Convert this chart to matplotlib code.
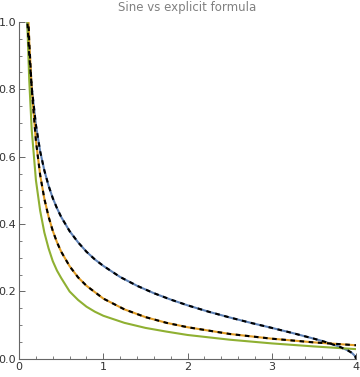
import matplotlib
matplotlib.use('Agg')
import matplotlib.pyplot as plt
from matplotlib.ticker import MultipleLocator

# values
x_blue = [0.09, 0.10, 0.12, 0.15, 0.20, 0.25, 0.30, 0.35, 0.40, 0.45, 0.50, 0.60, 0.70, 0.80, 0.90,
          1.00, 1.20, 1.40, 1.60, 1.80, 2.00, 2.25, 2.50, 2.75, 3.00, 3.25, 3.50,
          3.60, 3.70, 3.80, 3.85, 3.90, 3.95, 3.99, 4.00]
y_blue = [1.049, 0.994, 0.905, 0.806, 0.694, 0.616, 0.559, 0.514, 0.477, 0.447, 0.421, 0.379, 0.346,
          0.318, 0.295, 0.276, 0.243, 0.217, 0.195, 0.176, 0.159, 0.140, 0.123, 0.107, 0.092,
          0.0765, 0.060, 0.053, 0.045, 0.0365, 0.031, 0.0255, 0.018, 0.008, 0.0]

x_orange = [0.09, 0.10, 0.12, 0.15, 0.20, 0.25, 0.30, 0.35, 0.40, 0.45, 0.50, 0.60, 0.70, 0.80, 1.00,
            1.25, 1.50, 1.75, 2.00, 2.50, 3.00, 3.50, 4.00]
y_orange = [1.163, 1.080, 0.945, 0.801, 0.647, 0.546, 0.475, 0.422, 0.380, 0.346, 0.318, 0.275, 0.242,
            0.217, 0.179, 0.147, 0.124, 0.107, 0.094, 0.074, 0.060, 0.049, 0.0405]

x_green = [0.09, 0.10, 0.12, 0.15, 0.20, 0.25, 0.30, 0.35, 0.40, 0.45, 0.50, 0.60, 0.70, 0.80,
           0.90, 1.00, 1.25, 1.50, 1.75, 2.00, 2.50, 3.00, 3.50, 4.00]
y_green = [1.08, 0.98, 0.83, 0.68, 0.53, 0.44, 0.375, 0.328, 0.29, 0.262, 0.24, 0.20, 0.175, 0.155,
           0.140, 0.128, 0.107, 0.092, 0.081, 0.071, 0.057, 0.046, 0.037, 0.029]

fig = plt.figure(figsize=(3.6, 3.77), dpi=100)
ax = fig.add_axes([0.053, 0.048, 0.936, 0.894])

ax.plot(x_blue, y_blue, color='#5E81B5', lw=1.5)
ax.plot(x_orange, y_orange, color='#E19C24', lw=1.5)
ax.plot(x_green, y_green, color='#8FB032', lw=1.5)
ax.plot(x_blue, y_blue, color='black', lw=1.5, ls=(0, (2.2, 2.2)))
ax.plot(x_orange, y_orange, color='black', lw=1.5, ls=(0, (2.2, 2.2)))

ax.set_xlim(0, 4)
ax.set_ylim(0, 1)
ax.set_title('Sine vs explicit formula', fontsize=8.5, color='#808080', pad=8)

for s in ['top', 'right']:
    ax.spines[s].set_visible(False)
for s in ['left', 'bottom']:
    ax.spines[s].set_color('#666666')
    ax.spines[s].set_linewidth(0.8)

ax.xaxis.set_major_locator(MultipleLocator(1))
ax.xaxis.set_minor_locator(MultipleLocator(0.2))
ax.yaxis.set_major_locator(MultipleLocator(0.2))
ax.yaxis.set_minor_locator(MultipleLocator(0.05))
ax.yaxis.set_major_formatter(plt.FuncFormatter(lambda v, p: '%.1f' % v))
ax.tick_params(which='both', direction='in', color='#666666', labelcolor='#333333',
               labelsize=8, pad=2)
ax.tick_params(which='major', length=4, width=0.7)
ax.tick_params(which='minor', length=2, width=0.6)

fig.savefig('out.png', dpi=100)
